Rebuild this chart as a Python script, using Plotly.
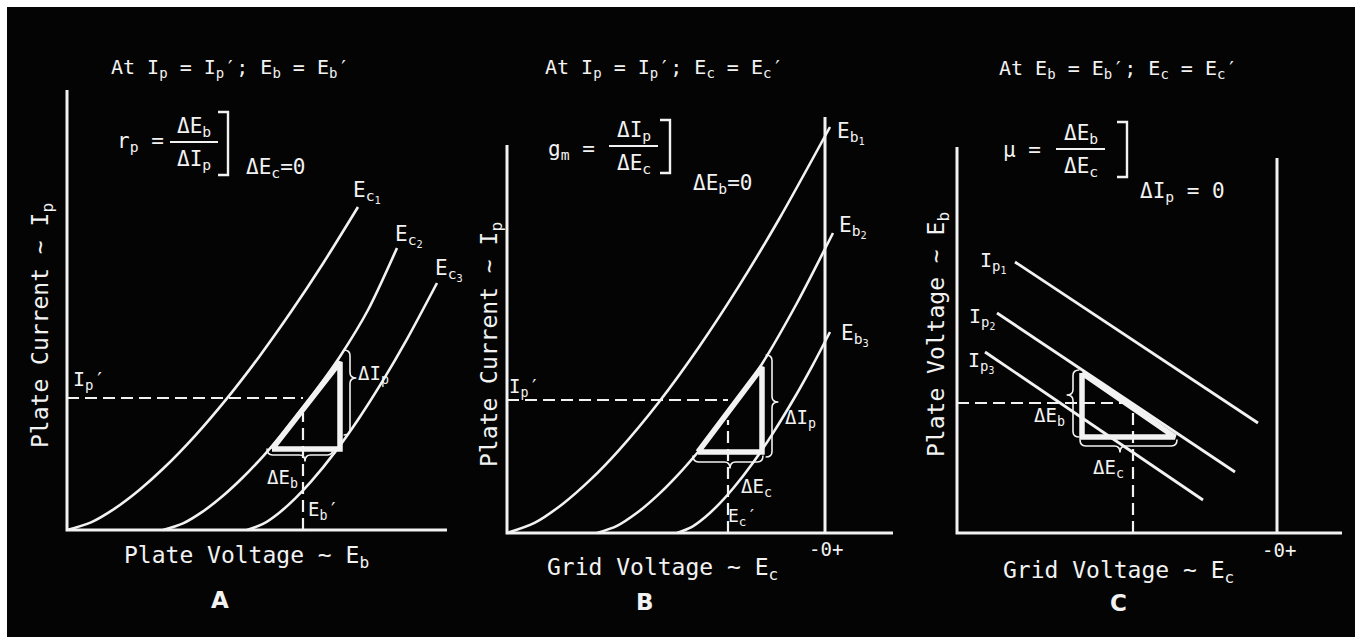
import plotly.graph_objects as go

W, H = 1360, 640
INK = "#f2f2f2"
FONT = "DejaVu Sans Mono"

# ---------------- Panel A: plate current vs plate voltage ----------------
ec1_eb = [0, 6, 12, 18, 24, 32, 40, 48, 56, 64, 72.75]
ec1_ip = [0, 1.91, 5.41, 9.94, 15.30, 23.56, 32.92, 43.27, 54.54, 66.63, 80.75]
ec2_eb = [24, 29, 34, 39, 44, 49, 54, 59, 64, 68.25, 75.25, 82.5]
ec2_ip = [0, 1.65, 4.65, 8.55, 13.18, 18.43, 24.23, 30.53, 37.28, 43.38, 55.0, 70.5]
ec3_eb = [45, 49, 53, 57, 61, 67, 73, 79, 85, 92.5]
ec3_ip = [0, 1.51, 4.27, 7.84, 12.07, 19.46, 27.95, 37.40, 47.72, 61.75]
a_ip_op = 33.0          # Ip'
a_eb_op = 59.0          # Eb'
a_tri_eb = [51.25, 68.25, 68.25, 51.25]
a_tri_ip = [20.25, 42.0, 20.25, 20.25]
a_axis_eb = [0, 0, 95]
a_axis_ip = [110, 0, 0]
a_curve_labels = ["E<sub>c<sub>1</sub></sub>", "E<sub>c<sub>2</sub></sub>", "E<sub>c<sub>3</sub></sub>"]

# ---------------- Panel B: plate current vs grid voltage ----------------
eb1_ec = [-79.5, -72.5, -65.5, -58.5, -51.5, -41.5, -31.5, -21.5, -11.5, 1.25]
eb1_ip = [0, 2.59, 7.33, 13.46, 20.73, 32.76, 46.52, 61.79, 78.44, 101.5]
eb2_ec = [-57, -52, -47, -42, -37, -31.75, -27, -22, -15.75, -7, 2]
eb2_ip = [0, 1.78, 5.05, 9.28, 14.28, 20.25, 26.23, 33.05, 42.28, 57.5, 75.0]
eb3_ec = [-37, -33.5, -30, -26.5, -23, -18, -13, -8, -3, 1.25]
eb3_ip = [0, 1.39, 3.93, 7.23, 11.13, 17.59, 24.98, 33.18, 42.11, 50.25]
b_ip_op = 33.25         # Ip'
b_ec_op = -24.25        # Ec'
b_tri_ec = [-31.75, -15.75, -15.75, -31.75]
b_tri_ip = [20.25, 41.5, 20.25, 20.25]
b_axis_ec = [-79.5, -79.5, 17]
b_axis_ip = [97, 0, 0]
b_zero_ip = [0, 104]
b_curve_labels = ["E<sub>b<sub>1</sub></sub>", "E<sub>b<sub>2</sub></sub>", "E<sub>b<sub>3</sub></sub>"]

# ---------------- Panel C: plate voltage vs grid voltage ----------------
ip1_ec = [-65.5, -4.75]
ip1_eb = [67.75, 27.5]
ip2_ec = [-70, -10.5]
ip2_eb = [55, 15.25]
ip3_ec = [-73, -18.5]
ip3_eb = [45.25, 8.25]
c_eb_op = 32.5          # Eb'
c_ec_op = -36.0         # Ec'
c_tri_ec = [-48.75, -48.75, -25.5, -48.75]
c_tri_eb = [40, 24, 24, 40]
c_axis_ec = [-80, -80, 16.25]
c_axis_eb = [96.5, 0, 0]
c_zero_eb = [0, 93.75]
c_curve_labels = ["I<sub>p<sub>1</sub></sub>", "I<sub>p<sub>2</sub></sub>", "I<sub>p<sub>3</sub></sub>"]

fig = go.Figure()


def px_x(p):
    return p / W


def px_y(p):
    return 1 - p / H


def add_line(xs, ys, sub, width=3.0, dash=None, shape="linear"):
    fig.add_trace(go.Scatter(
        x=xs, y=ys, xaxis="x" + sub, yaxis="y" + sub, mode="lines",
        line=dict(color=INK, width=width, dash=dash, shape=shape, smoothing=0.8),
        hoverinfo="skip", showlegend=False))


DASH = "12px,6px"

# Panel A marks
add_line(a_axis_eb, a_axis_ip, "", 3)
for xs, ys in [(ec1_eb, ec1_ip), (ec2_eb, ec2_ip), (ec3_eb, ec3_ip)]:
    add_line(xs, ys, "", 2.6, shape="spline")
add_line([0, a_eb_op], [a_ip_op, a_ip_op], "", 2.2, DASH)
add_line([a_eb_op, a_eb_op], [0, a_tri_ip[0] + 9], "", 2.2, DASH)
add_line(a_tri_eb, a_tri_ip, "", 5.5)

# Panel B marks
add_line(b_axis_ec, b_axis_ip, "2", 3)
add_line([0, 0], b_zero_ip, "2", 3)
for xs, ys in [(eb1_ec, eb1_ip), (eb2_ec, eb2_ip), (eb3_ec, eb3_ip)]:
    add_line(xs, ys, "2", 2.6, shape="spline")
add_line([b_axis_ec[0], b_ec_op], [b_ip_op, b_ip_op], "2", 2.2, DASH)
add_line([b_ec_op, b_ec_op], [0, b_tri_ip[0] + 8], "2", 2.2, DASH)
add_line(b_tri_ec, b_tri_ip, "2", 5.5)

# Panel C marks
add_line(c_axis_ec, c_axis_eb, "3", 3)
add_line([0, 0], c_zero_eb, "3", 3)
for xs, ys in [(ip1_ec, ip1_eb), (ip2_ec, ip2_eb), (ip3_ec, ip3_eb)]:
    add_line(xs, ys, "3", 2.8)
add_line([c_axis_ec[0], c_ec_op], [c_eb_op, c_eb_op], "3", 2.2, DASH)
add_line([c_ec_op, c_ec_op], [0, c_eb_op], "3", 2.2, DASH)
add_line(c_tri_ec, c_tri_eb, "3", 5.5)

shapes = []
annotations = []

# black picture area
shapes.append(dict(type="rect", xref="paper", yref="paper",
                   x0=px_x(7), x1=px_x(1355), y0=px_y(637), y1=px_y(7),
                   fillcolor="#040404", line=dict(width=0), layer="below"))


def vbrace(sub, x, y_top, y_bot, y_tip, s=1, h=1.6, r=1.4, d=1.6):
    p = (f"M {x - s*h},{y_top} Q {x},{y_top} {x},{y_top - r} "
         f"L {x},{y_tip + r} Q {x},{y_tip} {x + s*d},{y_tip} "
         f"Q {x},{y_tip} {x},{y_tip - r} L {x},{y_bot + r} "
         f"Q {x},{y_bot} {x - s*h},{y_bot}")
    shapes.append(dict(type="path", path=p, xref="x" + sub, yref="y" + sub,
                       line=dict(color=INK, width=1.6)))


def hbrace(sub, y, x_l, x_r, x_tip, h=1.6, r=1.4, d=1.6):
    p = (f"M {x_l},{y + h} Q {x_l},{y} {x_l + r},{y} "
         f"L {x_tip - r},{y} Q {x_tip},{y} {x_tip},{y - d} "
         f"Q {x_tip},{y} {x_tip + r},{y} L {x_r - r},{y} "
         f"Q {x_r},{y} {x_r},{y + h}")
    shapes.append(dict(type="path", path=p, xref="x" + sub, yref="y" + sub,
                       line=dict(color=INK, width=1.6)))


vbrace("", 70.75, 45, 23.75, 38)
hbrace("", 18.75, 50, 66.5, 59.5)
vbrace("2", -13.25, 44.5, 19, 32.75)
hbrace("2", 17.75, -33, -15.5, -23.75)
vbrace("3", -51, 40.75, 24, 34.5, s=-1)
hbrace("3", 21.75, -49.25, -25, -39.25)


def text(t, x, y, size=20, sub=None, angle=0, bold=False, fam=FONT):
    if sub is None:
        xr, yr, xx, yy = "paper", "paper", px_x(x), px_y(y)
    else:
        xr, yr, xx, yy = "x" + sub, "y" + sub, x, y
    if bold:
        t = "<b>" + t + "</b>"
    annotations.append(dict(text=t, x=xx, y=yy, xref=xr, yref=yr, showarrow=False,
                            xanchor="center", yanchor="middle", textangle=angle,
                            font=dict(family=fam, size=size, color=INK)))


def fraction(num, den, x0, x1, y, bx, y_top, y_bot):
    cx = (x0 + x1) / 2
    text(num, cx, y - 15, 21)
    text(den, cx, y + 18, 21)
    shapes.append(dict(type="line", xref="paper", yref="paper",
                       x0=px_x(x0), x1=px_x(x1), y0=px_y(y), y1=px_y(y),
                       line=dict(color=INK, width=2.2)))
    shapes.append(dict(type="path", xref="paper", yref="paper",
                       path=(f"M {px_x(bx - 10)},{px_y(y_top)} L {px_x(bx)},{px_y(y_top)} "
                             f"L {px_x(bx)},{px_y(y_bot)} L {px_x(bx - 10)},{px_y(y_bot)}"),
                       line=dict(color=INK, width=2.4)))


LETTER = "DejaVu Sans"

# Panel A text
text("At I<sub>p</sub> = I<sub>p</sub>′; E<sub>b</sub> = E<sub>b</sub>′", 230, 68, 20)
text("r<sub>p</sub> =", 140, 142, 21)
fraction("ΔE<sub>b</sub>", "ΔI<sub>p</sub>", 170, 218, 142, 228, 112, 175)
text("ΔE<sub>c</sub>=0", 275, 168, 21)
text("Plate Current ~ I<sub>p</sub>", 42, 326, 23, angle=-90)
text("Plate Voltage ~ E<sub>b</sub>", 246, 557, 23)
text("A", 220, 600, 23, bold=True, fam=LETTER)
for lab, xy in zip(a_curve_labels, [(75, 84.5), (85.5, 73.5), (95.5, 65)]):
    text(lab, xy[0], xy[1], 21, sub="")
text("I<sub>p</sub>′", 5.5, 37.5, 20, sub="")
text("E<sub>b</sub>′", 64, 5, 19, sub="")
text("ΔI<sub>p</sub>", 76.5, 39, 19, sub="")
text("ΔE<sub>b</sub>", 53.75, 13, 19, sub="")

# Panel B text
text("At I<sub>p</sub> = I<sub>p</sub>′; E<sub>c</sub> = E<sub>c</sub>′", 664, 68, 20)
text("g<sub>m</sub> =", 571, 150, 21)
fraction("ΔI<sub>p</sub>", "ΔE<sub>c</sub>", 609, 658, 146, 670, 120, 173)
text("ΔE<sub>b</sub>=0", 722, 184, 21)
text("Plate Current ~ I<sub>p</sub>", 491, 345, 23, angle=-90)
text("Grid Voltage ~ E<sub>c</sub>", 662, 569, 23)
text("B", 645, 602, 23, bold=True, fam=LETTER)
for lab, xy in zip(b_curve_labels, [(6.5, 100), (7, 76.5), (7.5, 49.5)]):
    text(lab, xy[0], xy[1], 21, sub="2")
text("I<sub>p</sub>′", -75.25, 36.5, 19, sub="2")
text("E<sub>c</sub>′", -20.75, 4, 18, sub="2")
text("ΔI<sub>p</sub>", -6.25, 28.75, 19, sub="2")
text("ΔE<sub>c</sub>", -17.25, 11.5, 19, sub="2")
text("-0+", 0.25, -4, 19, sub="2")

# Panel C text
text("At E<sub>b</sub> = E<sub>b</sub>′; E<sub>c</sub> = E<sub>c</sub>′", 1118, 69, 20)
text("μ =", 1022, 150, 21)
fraction("ΔE<sub>b</sub>", "ΔE<sub>c</sub>", 1056, 1105, 149, 1127, 122, 177)
text("ΔI<sub>p</sub> = 0", 1182, 192, 21)
text("Plate Voltage ~ E<sub>b</sub>", 938, 335, 23, angle=-90)
text("Grid Voltage ~ E<sub>c</sub>", 1118, 572, 23)
text("C", 1118, 603, 23, bold=True, fam=LETTER)
for lab, xy in zip(c_curve_labels, [(-71, 67.75), (-73.75, 53.75), (-74, 42.75)]):
    text(lab, xy[0], xy[1], 20, sub="3")
text("ΔE<sub>b</sub>", -57, 29.25, 19, sub="3")
text("ΔE<sub>c</sub>", -42.25, 16.25, 19, sub="3")
text("-0+", 0.5, -4.25, 19, sub="3")

ax = dict(visible=False, fixedrange=True)
y_dom = [px_y(637), px_y(7)]
fig.update_layout(
    width=W, height=H, autosize=False,
    margin=dict(l=0, r=0, t=0, b=0),
    paper_bgcolor="white", plot_bgcolor="rgba(0,0,0,0)",
    showlegend=False,
    xaxis=dict(domain=[px_x(7), px_x(455)], range=[-15, 97], **ax),
    yaxis=dict(domain=y_dom, range=[-26.75, 130.75], anchor="x", **ax),
    xaxis2=dict(domain=[px_x(455), px_x(905)], range=[-92.5, 20], anchor="y2", **ax),
    yaxis2=dict(domain=y_dom, range=[-26, 131.5], anchor="x2", **ax),
    xaxis3=dict(domain=[px_x(905), px_x(1355)], range=[-93, 19.5], anchor="y3", **ax),
    yaxis3=dict(domain=y_dom, range=[-26, 131.5], anchor="x3", **ax),
    shapes=shapes, annotations=annotations,
)

fig.write_html("out.html")
